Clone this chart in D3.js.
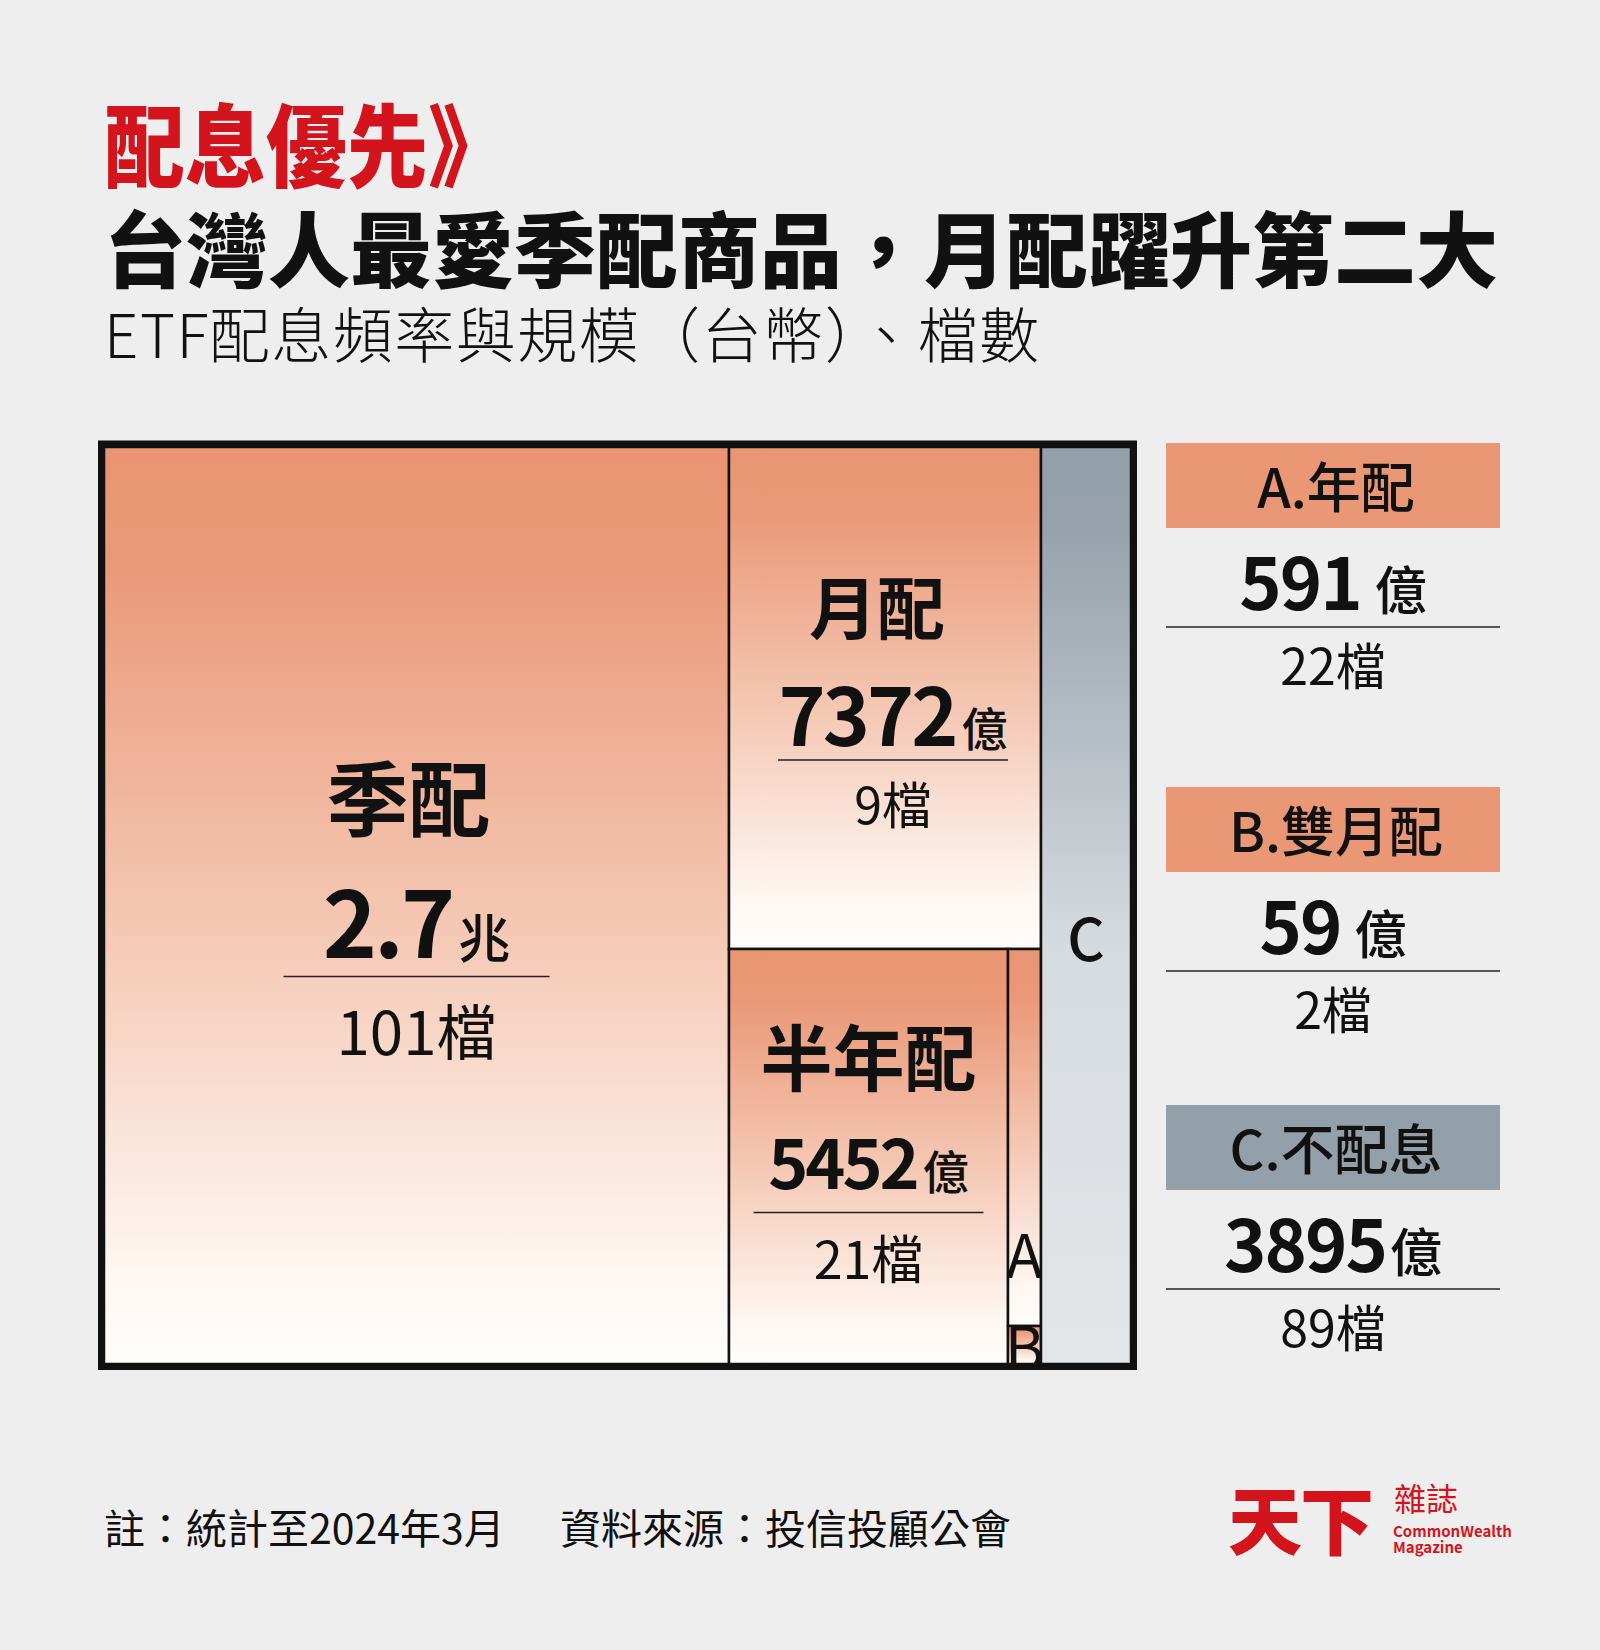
<!DOCTYPE html>
<html><head><meta charset="utf-8">
<script src="https://cdn.jsdelivr.net/npm/d3@7"></script>
<style>
html,body{margin:0;padding:0;background:#eeeeee;}
svg{display:block;}
text{font-family:"Noto Sans CJK TC","Noto Sans CJK SC","Noto Sans",sans-serif;}
</style></head><body>
<svg id="chart" width="1600" height="1650"></svg>
<script>
// ---- data (億元 / 檔) ----
const names = ["季配","月配","半年配","年配","雙月配","不配息"];
const codes = ["","","","A","B","C"];
const sizes = [27000, 7372, 5452, 591, 59, 3895];
const valueLabels = ["2.7","7372","5452","591","59","3895"];
const valueUnits = ["兆","億","億","億","億","億"];
const counts = [101, 9, 21, 22, 2, 89];
const colorGroup = ["warm","warm","warm","warm","warm","cool"];
const legendItems = [3, 4, 5];

const titleKicker = "配息優先》";
const titleMain = "台灣人最愛季配商品，月配躍升第二大";
const subtitle = "ETF配息頻率與規模（台幣）、檔數";
const footNote = "註：統計至2024年3月";
const footSource = "資料來源：投信投顧公會";

// ---- layout / style ----
const RED = "#d3141c";
const WARM = "#ea9776", COOL = "#939fa9";
const frame = {x: 104, y: 447, w: 1027, h: 917};

const svg = d3.select("#chart");
svg.append("rect").attr("width",1600).attr("height",1650).attr("fill","#eeeeee");

// titles
svg.append("text").attr("transform","translate(104,180) scale(0.9,1)")
  .attr("font-size",90).attr("font-weight",900).attr("fill",RED).text(titleKicker);
svg.append("text").attr("x",104).attr("y",281)
  .attr("font-size",82).attr("font-weight",900).attr("fill","#111").text(titleMain);
svg.append("text").attr("x",104).attr("y",358).attr("letter-spacing",1.5)
  .attr("font-size",60).attr("font-weight",300).attr("fill","#111").text(subtitle);

// gradients
const defs = svg.append("defs");
const gw = defs.append("linearGradient").attr("id","gWarm").attr("x1",0).attr("y1",0).attr("x2",0).attr("y2",1);
[[0,"#e99574"],[0.12,"#ea9877"],[0.55,"#f5cbb8"],[0.9,"#fef7f2"],[1,"#fffdfb"]]
  .forEach(([o,c]) => gw.append("stop").attr("offset",o).attr("stop-color",c));
const gc = defs.append("linearGradient").attr("id","gCool").attr("x1",0).attr("y1",0).attr("x2",0).attr("y2",1);
[[0,"#929ea8"],[0.08,"#96a1ab"],[0.55,"#d6dbdf"],[1,"#e3e6e9"]]
  .forEach(([o,c]) => gc.append("stop").attr("offset",o).attr("stop-color",c));

// hierarchy: 季配 | (月配 / (半年配 | (A / B))) | C
const leaf = i => ({idx: i, value: sizes[i]});
const tree = {dir: "x", children: [
  leaf(0),
  {dir: "y", children: [leaf(1), {dir: "x", children: [leaf(2), {dir: "y", children: [leaf(3), leaf(4)]}]}]},
  leaf(5)
]};
const root = d3.hierarchy(tree).sum(d => d.children ? 0 : d.value);
d3.treemap().size([frame.w, frame.h]).round(true)
  .tile((node, x0, y0, x1, y1) => (node.data.dir === "x" ? d3.treemapDice : d3.treemapSlice)(node, x0, y0, x1, y1))(root);

const g = svg.append("g").attr("transform", `translate(${frame.x},${frame.y})`);
const leaves = root.leaves();

leaves.forEach(l => {
  defs.append("clipPath").attr("id","clip"+l.data.idx)
    .append("rect").attr("x",l.x0).attr("y",l.y0).attr("width",l.x1-l.x0).attr("height",l.y1-l.y0);
});

g.selectAll("rect.cell").data(leaves).join("rect").attr("class","cell")
  .attr("x", d => d.x0).attr("y", d => d.y0)
  .attr("width", d => d.x1 - d.x0).attr("height", d => d.y1 - d.y0)
  .attr("fill", d => colorGroup[d.data.idx] === "cool" ? "url(#gCool)" : "url(#gWarm)")
  .attr("stroke", "#111").attr("stroke-width", 2.5);

// big labels
const bigStyle = {
  0: {name:82, value:92, unit:52, count:60, nOff:-76, vOff:52, lOff:71, cOff:149, lineW:266, ndx:-8, dx:0},
  1: {name:68, value:80, unit:46, count:50, nOff:-64, vOff:48, lOff:62, cOff:126, lineW:230, ndx:-8, dx:8},
  2: {name:72, value:68, unit:46, count:52, nOff:-72, vOff:32, lOff:56, cOff:122, lineW:230, ndx:0, dx:0}
};
leaves.filter(l => bigStyle[l.data.idx]).forEach(l => {
  const i = l.data.idx, s = bigStyle[i];
  const cx = (l.x0 + l.x1) / 2, cy = (l.y0 + l.y1) / 2;
  g.append("text").attr("x", cx + s.ndx).attr("y", cy + s.nOff).attr("text-anchor","middle")
    .attr("font-size", s.name).attr("font-weight", 700).attr("fill","#111").text(names[i]);
  const vt = g.append("text").attr("x", cx + s.dx).attr("y", cy + s.vOff).attr("text-anchor","middle").attr("fill","#111");
  vt.append("tspan").attr("font-size", s.value).attr("font-weight", 700).attr("letter-spacing", -3).text(valueLabels[i]);
  vt.append("tspan").attr("dx", 6).attr("font-size", s.unit).attr("font-weight", 500).text(valueUnits[i]);
  g.append("line").attr("x1", cx + s.dx - s.lineW/2).attr("x2", cx + s.dx + s.lineW/2)
    .attr("y1", cy + s.lOff).attr("y2", cy + s.lOff).attr("stroke","#222").attr("stroke-width",1.5);
  g.append("text").attr("x", cx + s.dx).attr("y", cy + s.cOff).attr("text-anchor","middle")
    .attr("font-size", s.count).attr("font-weight", 400).attr("fill","#111").text(counts[i] + "檔");
});

// code labels A, B, C
leaves.filter(l => codes[l.data.idx]).forEach(l => {
  const i = l.data.idx;
  const cx = (l.x0 + l.x1) / 2;
  let y;
  if (i === 3) y = l.y1 - 48;
  else if (i === 4) y = l.y0 + 44;
  else y = (l.y0 + l.y1) / 2 + 55;
  g.append("text").attr("clip-path", i === 5 ? null : `url(#clip${i})`)
    .attr("x", cx).attr("y", y).attr("text-anchor","middle")
    .attr("font-size", i === 5 ? 58 : 60).attr("font-weight", i === 5 ? 500 : 400)
    .attr("font-family","'Noto Sans','Noto Sans CJK TC',sans-serif")
    .attr("fill","#111").text(codes[i]);
});

// outer frame
svg.append("rect").attr("x", 101.5).attr("y", 444).attr("width", 1032).attr("height", 922.5)
  .attr("fill","none").attr("stroke","#111").attr("stroke-width",7);

// legend
const legendTops = [443, 787, 1105];
const lg = {x: 1166, w: 334, h: 85};
legendItems.forEach((i, k) => {
  const t = legendTops[k], cx = lg.x + lg.w / 2;
  svg.append("rect").attr("x", lg.x).attr("y", t).attr("width", lg.w).attr("height", lg.h)
    .attr("fill", colorGroup[i] === "cool" ? COOL : WARM);
  svg.append("text").attr("x", cx + 3).attr("y", t + 65).attr("text-anchor","middle")
    .attr("font-size", 54).attr("font-weight", 500).attr("fill","#111").text(`${codes[i]}.${names[i]}`);
  const vt = svg.append("text").attr("x", cx).attr("y", t + lg.h + 82).attr("text-anchor","middle").attr("fill","#111");
  vt.append("tspan").attr("font-size", 72).attr("font-weight", 700).attr("letter-spacing", -2).text(valueLabels[i]);
  vt.append("tspan").attr("dx", valueLabels[i].length < 4 ? 14 : 4).attr("font-size", 52).attr("font-weight", 500).text(valueUnits[i]);
  svg.append("line").attr("x1", lg.x).attr("x2", lg.x + lg.w).attr("y1", t + lg.h + 99).attr("y2", t + lg.h + 99)
    .attr("stroke","#222").attr("stroke-width",1.5);
  svg.append("text").attr("x", cx).attr("y", t + lg.h + 157).attr("text-anchor","middle")
    .attr("font-size", 50).attr("font-weight", 400).attr("fill","#111").text(counts[i] + "檔");
});

// footer
svg.append("text").attr("x", 104).attr("y", 1544).attr("font-size", 41).attr("font-weight", 400).attr("fill","#111").text(footNote);
svg.append("text").attr("x", 560).attr("y", 1544).attr("font-size", 41).attr("font-weight", 400).attr("fill","#111").text(footSource);

// logo
const logo = svg.append("g").attr("fill", RED);
logo.append("text").attr("x", 1228).attr("y", 1549).attr("font-size", 74).attr("font-weight", 900)
  .attr("letter-spacing", -2).text("天下");
logo.append("text").attr("x", 1394).attr("y", 1511).attr("font-size", 32).attr("font-weight", 400).text("雜誌");
logo.append("text").attr("x", 1393).attr("y", 1537).attr("font-size", 15).attr("font-weight", 700)
  .attr("font-family","'Liberation Serif','DejaVu Serif',serif").text("CommonWealth");
logo.append("text").attr("x", 1393).attr("y", 1553).attr("font-size", 15).attr("font-weight", 700)
  .attr("font-family","'Liberation Serif','DejaVu Serif',serif").text("Magazine");
</script>
</body></html>
